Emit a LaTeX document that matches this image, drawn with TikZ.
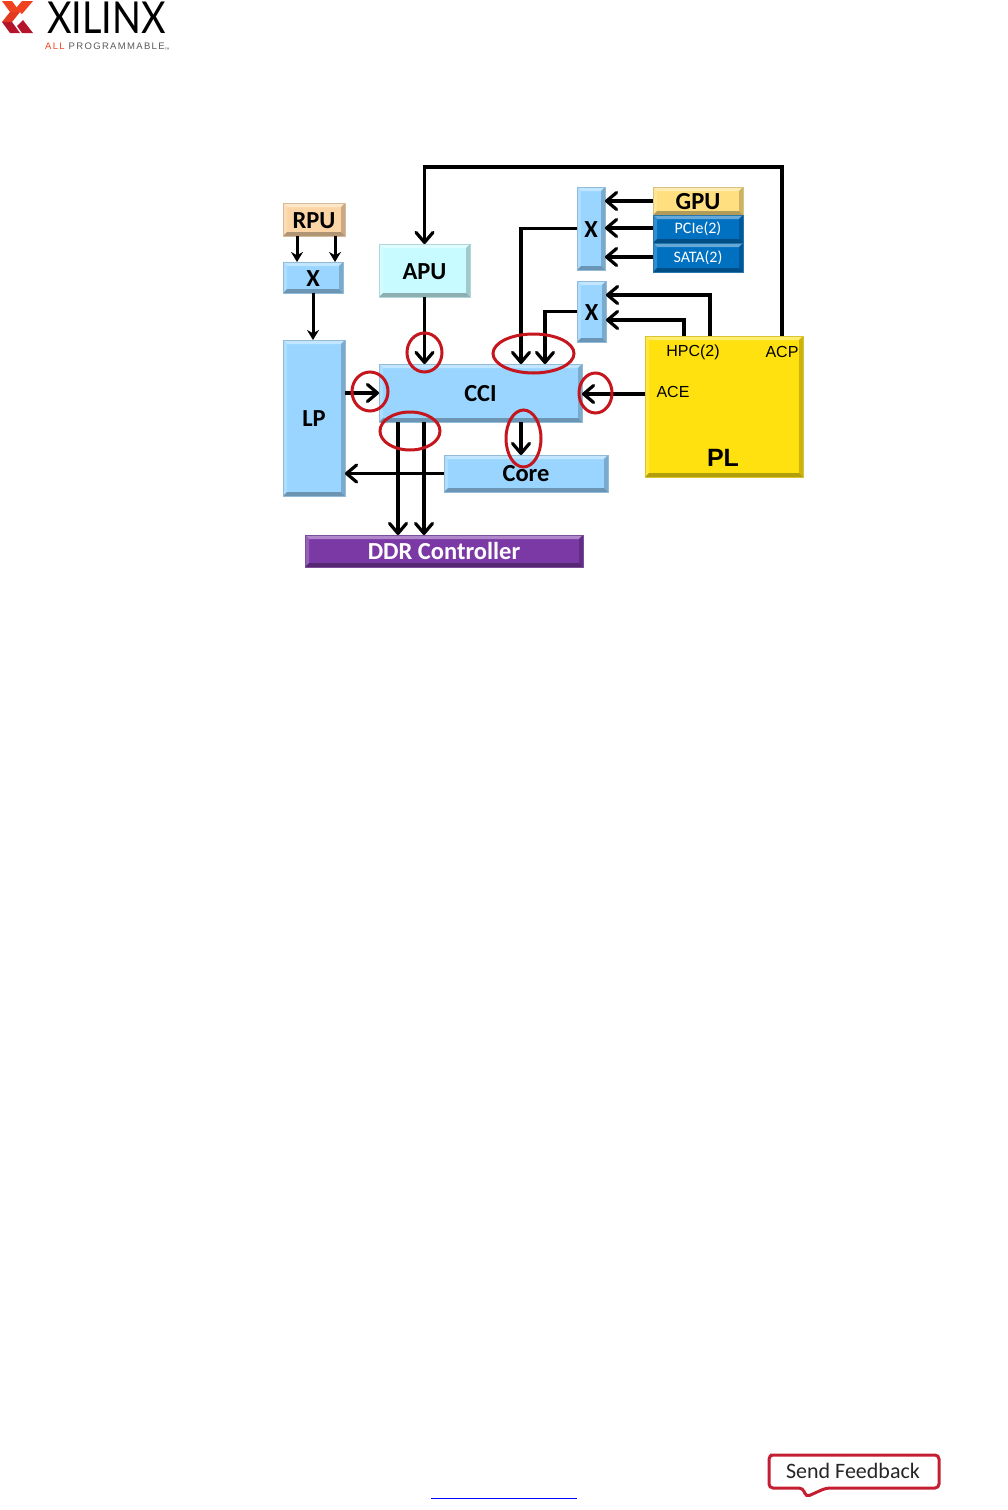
\documentclass[tikz,border=0pt]{standalone}
\usepackage{fontspec}
\usepackage{graphicx}
\setmainfont{Carlito}
\newfontfamily\arialfont{Liberation Sans}
\newfontfamily\spacedfont[LetterSpace=14]{Liberation Sans}
\newfontfamily\latofont{Lato}
\usepackage{tikz}
\usetikzlibrary{arrows.meta,positioning,shapes.geometric}
\definecolor{bluebox}{HTML}{99D5FF}
\definecolor{cyanbox}{HTML}{C8FBFF}
\definecolor{rpubox}{HTML}{FBD5A5}
\definecolor{gpubox}{HTML}{FFDF7F}
\definecolor{pciebox}{HTML}{0070C0}
\definecolor{plbox}{HTML}{FFE10F}
\definecolor{ddrbox}{HTML}{7B39A6}
\definecolor{ringred}{HTML}{C4161C}
\definecolor{fbred}{HTML}{C41E33}
\definecolor{logoorange}{HTML}{F0421E}
\definecolor{logored}{HTML}{B5152B}

\begin{document}
\begin{tikzpicture}[x=1pt,y=-1pt,
  bev/.style={draw=#1!70!gray, line width=0.8pt, fill=#1, inner sep=0pt, outer sep=0pt,
    path picture={
      \fill[#1!60!white] (path picture bounding box.north west) -- (path picture bounding box.north east)
        -- ([shift={(-4,4)}]path picture bounding box.north east) -- ([shift={(4,4)}]path picture bounding box.north west) -- cycle;
      \fill[#1!80!white] (path picture bounding box.north west) -- ([shift={(4,4)}]path picture bounding box.north west)
        -- ([shift={(4,-4)}]path picture bounding box.south west) -- (path picture bounding box.south west) -- cycle;
      \fill[#1!80!black] (path picture bounding box.north east) -- ([shift={(-4,4)}]path picture bounding box.north east)
        -- ([shift={(-4,-4)}]path picture bounding box.south east) -- (path picture bounding box.south east) -- cycle;
      \fill[#1!70!black] (path picture bounding box.south west) -- ([shift={(4,-4)}]path picture bounding box.south west)
        -- ([shift={(-4,-4)}]path picture bounding box.south east) -- (path picture bounding box.south east) -- cycle;}},
  lab/.style={font=\fontsize{24.5}{24.5}\selectfont\bfseries, text height=17pt, text depth=0pt},
  small/.style={text=white, font=\fontsize{16}{16}\selectfont, text height=12pt, text depth=3pt},
  tag/.style={font=\arialfont\fontsize{16}{16}\selectfont, inner sep=0pt},
  ring/.style={draw=ringred, ellipse, line width=3pt, inner sep=0pt, minimum width=#1},
  arr/.style={-{Straight Barb[length=10pt,width=17pt,line width=3.2pt,round]}, line width=3.2pt},
  sarr/.style={-{Stealth[length=10pt,width=12pt]}, line width=3pt}]
  \useasboundingbox (0,0) rectangle (1008,1510);
  % boxes
  \node[bev=rpubox, lab, minimum width=62, minimum height=33] (rpu) at (314,219.5) {RPU};
  \node[bev=bluebox, lab, minimum width=60, minimum height=31] (xa) at (313,277.5) {X};
  \node[bev=cyanbox, lab, minimum width=91, minimum height=53] (apu) at (424.5,270.5) {APU};
  \node[bev=bluebox, lab, minimum width=62, minimum height=156] (lp) at (314,418) {LP};
  \node[bev=bluebox, lab, minimum width=203, minimum height=58] (cci) at (480.5,393) {CCI};
  \node[bev=bluebox, lab, text height=16pt, minimum width=164, minimum height=37] (core) at (526,473.5) {Core};
  \node[bev=ddrbox, lab, text=white, minimum width=278, minimum height=32] (ddr) at (444,551) {DDR Controller};
  \node[bev=bluebox, lab, minimum width=28, minimum height=83] (xb) at (591,228.5) {X};
  \node[bev=bluebox, lab, minimum width=29, minimum height=61] (xc) at (591.5,311.5) {X};
  \node[bev=gpubox, lab, minimum width=90, minimum height=28] (gpu) at (698,201) {GPU};
  \node[bev=pciebox, small, minimum width=90, minimum height=28] (pcie) at (698,229) {PCIe(2)};
  \node[bev=pciebox, small, minimum width=90, minimum height=29] (sata) at (698,257.5) {SATA(2)};
  \node[bev=plbox, minimum width=158, minimum height=141] (pl) at (724,406.5) {};
  \node[tag] (hpclab) at (693,352) {HPC(2)};
  \node[tag] (acplab) at (782,352) {ACP};
  \node[tag] (acelab) at (673,392) {ACE};
  \node[font=\arialfont\bfseries\fontsize{25}{25}\selectfont, inner sep=0pt] (pllab) at (723,458) {PL};
  % free ends on the PL top edge
  \coordinate (acp) at (782,336);
  \coordinate (hpca) at (684,336);
  \coordinate (hpcb) at (710,336);
  % connectors
  \foreach \x in {297,335}{\draw[sarr] (rpu.south -| \x,0) -- (xa.north -| \x,0);}
  \draw[sarr] (xa.south) -- (lp.north -| xa.south);
  \draw[arr] (acp) |- (apu.north |- 0,167) -- (apu.north);
  \draw[arr] (apu.south) -- (cci.north -| apu.south);
  \draw[arr] (xb.west) -| (cci.north -| 521,0);
  \draw[arr] (xc.west) -| (cci.north -| 545,0);
  \foreach \y/\n in {201/gpu,228/pcie,257/sata}{\draw[arr] (\n.west |- 0,\y) -- (xb.east |- 0,\y);}
  \draw[arr] (hpca) |- (xc.east |- 0,320);
  \draw[arr] (hpcb) |- (xc.east |- 0,295);
  \draw[arr] (pl.west |- 0,394) -- (cci.east |- 0,394);
  \draw[arr] (lp.east |- 0,393) -- (cci.west |- 0,393);
  \draw[arr] (cci.south -| 521,0) -- (core.north -| 521,0);
  \draw[arr] (core.west) -- (lp.east |- core.west);
  \foreach \x in {398,424}{\draw[arr] (cci.south -| \x,0) -- (ddr.north -| \x,0);}
  % red rings
  \node[ring=35, minimum height=39] (ringa) at (424.5,352.5) {};
  \node[ring=81, minimum height=39] (ringb) at (533.5,353.5) {};
  \node[ring=36, minimum height=39] (ringc) at (370,391.5) {};
  \node[ring=33, minimum height=40] (ringd) at (595.5,393) {};
  \node[ring=60, minimum height=38] (ringe) at (410,431) {};
  \node[ring=35, minimum height=57] (ringf) at (523.5,438.5) {};
  % logo
  \fill[logoorange] (2,1) -- (12,1) -- (20,12) -- (10,12) -- cycle;
  \fill[logoorange] (33,1) -- (22,1) -- (16,8) -- (22,14) -- cycle;
  \fill[logoorange!80!logored] (10,12) -- (20,12) -- (12,22) -- (2,22) -- cycle;
  \fill[logored] (2,22) -- (12,22) -- (20,33) -- (10,33) -- cycle;
  \fill[logored] (33,33) -- (22,33) -- (17,26) -- (23,20) -- cycle;
  \node[font=\latofont\fontsize{44}{44}\selectfont, inner sep=0pt, anchor=base west, black] (xlogo) at (47,33)
    {\scalebox{.86}[1]{XILINX}};
  \node[font=\spacedfont\fontsize{9.5}{10}\selectfont, inner sep=0pt, anchor=west, gray!70!black] (allprog) at (45,47.5)
    {\textcolor{logoorange}{ALL} PROGRAMMABLE\raisebox{-2pt}{\fontsize{5}{5}\selectfont ™}};
  % footer
  \draw[blue, line width=1pt] (431,1498) -- (577,1498);
  \draw[fbred, line width=3pt, rounded corners=4pt, fill=white] (774,1455) -- (939,1455) -- (939,1488) -- (826,1488)
    -- (806,1497) -- (803,1488) -- (769,1488) -- (769,1455) -- cycle;
  \node[font=\fontsize{22}{22}\selectfont, inner sep=0pt, black!85] (feedback) at (853,1471) {Send Feedback};
\end{tikzpicture}
\end{document}
